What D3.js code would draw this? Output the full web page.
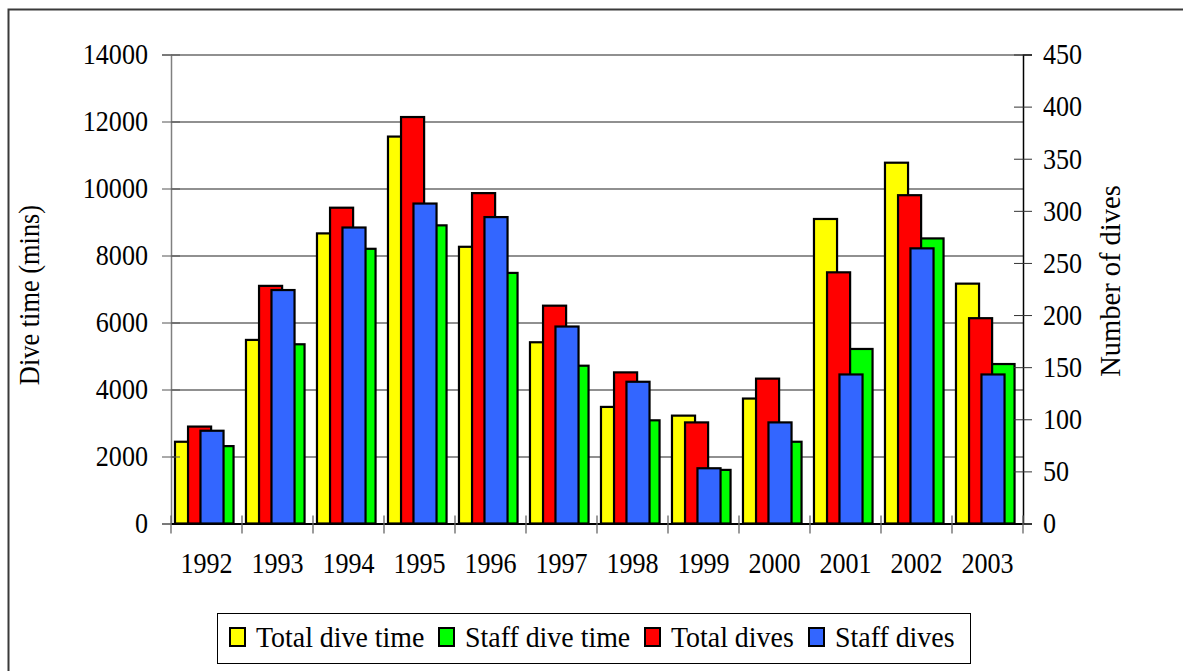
<!DOCTYPE html>
<html>
<head>
<meta charset="utf-8">
<script src="https://cdn.jsdelivr.net/npm/d3@7/dist/d3.min.js"></script>
<style>
    body { margin: 0; background: #fff; }
    svg { display: block; font-family: "Liberation Serif", "Times New Roman", serif; }
    .axis text { font-size: 29px; fill: #000; font-family: "Liberation Serif", "Times New Roman", serif; }
</style>
</head>
<body>
<svg width="1183" height="671"></svg>
<script>
    // data
    var years = ["1992", "1993", "1994", "1995", "1996", "1997", "1998", "1999", "2000", "2001", "2002", "2003"];
    var totalDiveTime = [2440, 5480, 8660, 11550, 8260, 5410, 3480, 3220, 3730, 9090, 10770, 7160];
    var staffDiveTime = [2310, 5350, 8200, 8900, 7480, 4710, 3080, 1600, 2440, 5210, 8510, 4760];
    var totalDives = [93, 228, 303, 390, 317, 209, 145, 97, 139, 241, 315, 197];
    var staffDives = [89, 224, 284, 307, 294, 189, 136, 53, 97, 143, 264, 143];
    var leftTicks = [0, 2000, 4000, 6000, 8000, 10000, 12000, 14000];
    var rightTicks = [0, 50, 100, 150, 200, 250, 300, 350, 400, 450];

    var svg = d3.select("svg");
    var plot = { left: 171, right: 1023, top: 54.5, bottom: 523.5 };
    var sx = 0.9; // text in the original is narrow and tall

    var x = d3.scaleBand().domain(years).range([plot.left, plot.right]).padding(0);
    var yL = d3.scaleLinear().domain([0, 14000]).range([plot.bottom, plot.top]);
    var yR = d3.scaleLinear().domain([0, 450]).range([plot.bottom, plot.top]);

    // squeeze axis labels horizontally, keeping their anchor point
    function squeeze(texts, dx, dy) {
        texts.attr("x", 0).attr("y", 0)
            .attr("transform", "translate(" + dx + "," + dy + ") scale(" + sx + ",1)");
    }

    // outer frame (runs off the right and bottom edge)
    svg.append("rect")
        .attr("x", 8.5).attr("y", 9.5)
        .attr("width", 1200).attr("height", 700)
        .attr("fill", "none").attr("stroke", "#3a3a3a").attr("stroke-width", 2);

    // gridlines
    svg.append("g")
        .attr("transform", "translate(" + plot.left + ",0)")
        .call(d3.axisLeft(yL).tickValues(leftTicks.slice(1)).tickSize(-(plot.right - plot.left)).tickFormat(""))
        .call(function(g) { g.select(".domain").remove(); })
        .selectAll("line").attr("stroke", "#222").attr("stroke-width", 1.2);

    // bars: position within each band as fraction of band width
    var series = [
        { name: "Total dive time", values: totalDiveTime, scale: yL, color: "#ffff00", off: 0.056 },
        { name: "Staff dive time", values: staffDiveTime, scale: yL, color: "#00ff00", off: 0.556 },
        { name: "Total dives", values: totalDives, scale: yR, color: "#ff0000", off: 0.24 },
        { name: "Staff dives", values: staffDives, scale: yR, color: "#3366ff", off: 0.415 }
    ];
    var barW = x.bandwidth() * 0.325;

    series.forEach(function(s) {
        svg.append("g").selectAll("rect")
            .data(s.values)
            .enter().append("rect")
            .attr("x", function(d, i) { return x(years[i]) + x.bandwidth() * s.off; })
            .attr("y", function(d) { return s.scale(d); })
            .attr("width", barW)
            .attr("height", function(d) { return plot.bottom - s.scale(d); })
            .attr("fill", s.color)
            .attr("stroke", "#000")
            .attr("stroke-width", 2.2);
    });

    // left axis
    var gl = svg.append("g").attr("class", "axis")
        .attr("transform", "translate(" + plot.left + ",0)")
        .call(d3.axisLeft(yL).tickValues(leftTicks).tickSize(9).tickPadding(14).tickFormat(d3.format("d")));
    gl.select(".domain").attr("stroke", "#808080").attr("stroke-width", 1.5);
    gl.selectAll(".tick line").attr("x1", 9).attr("stroke", "#555");
    squeeze(gl.selectAll(".tick text"), -23, 0);

    // right axis
    var gr = svg.append("g").attr("class", "axis")
        .attr("transform", "translate(" + plot.right + ",0)")
        .call(d3.axisRight(yR).tickValues(rightTicks).tickSize(9).tickPadding(11));
    gr.select(".domain").attr("stroke", "#000").attr("stroke-width", 1.5);
    gr.selectAll(".tick line").attr("x1", -9).attr("stroke", "#333");
    squeeze(gr.selectAll(".tick text"), 20, 0);

    // bottom axis (labels centred, ticks on the category boundaries)
    var gb = svg.append("g").attr("class", "axis")
        .attr("transform", "translate(0," + plot.bottom + ")")
        .call(d3.axisBottom(x).tickSize(0).tickPadding(30));
    gb.select(".domain").attr("stroke", "#000").attr("stroke-width", 2);
    gb.selectAll(".tick line").remove();
    squeeze(gb.selectAll(".tick text"), 0, 29);
    var bounds = years.map(function(d) { return x(d); }).concat([plot.right]);
    gb.selectAll(".bound").data(bounds).enter().append("line")
        .attr("x1", function(d) { return d; }).attr("x2", function(d) { return d; })
        .attr("y1", -8).attr("y2", 10)
        .attr("stroke", "#666").attr("stroke-width", 1.3);

    // axis titles
    svg.append("text")
        .attr("transform", "translate(39,295) rotate(-90) scale(0.91,1)")
        .attr("text-anchor", "middle")
        .attr("font-size", 29)
        .text("Dive time (mins)");
    svg.append("text")
        .attr("transform", "translate(1120,281) rotate(-90) scale(0.95,1)")
        .attr("text-anchor", "middle")
        .attr("font-size", 30)
        .text("Number of dives");

    // legend
    var legend = svg.append("g");
    legend.append("rect")
        .attr("x", 217.5).attr("y", 613.5).attr("width", 753).attr("height", 50)
        .attr("fill", "#fff").attr("stroke", "#000").attr("stroke-width", 1);
    var legendX = [230, 439, 645, 809];
    series.forEach(function(s, i) {
        legend.append("rect")
            .attr("x", legendX[i]).attr("y", 628)
            .attr("width", 15).attr("height", 18)
            .attr("fill", s.color).attr("stroke", "#000").attr("stroke-width", 2);
        legend.append("text")
            .attr("transform", "translate(" + (legendX[i] + 26) + ",647) scale(0.93,1)")
            .attr("font-size", 30)
            .text(s.name);
    });
</script>
</body>
</html>
